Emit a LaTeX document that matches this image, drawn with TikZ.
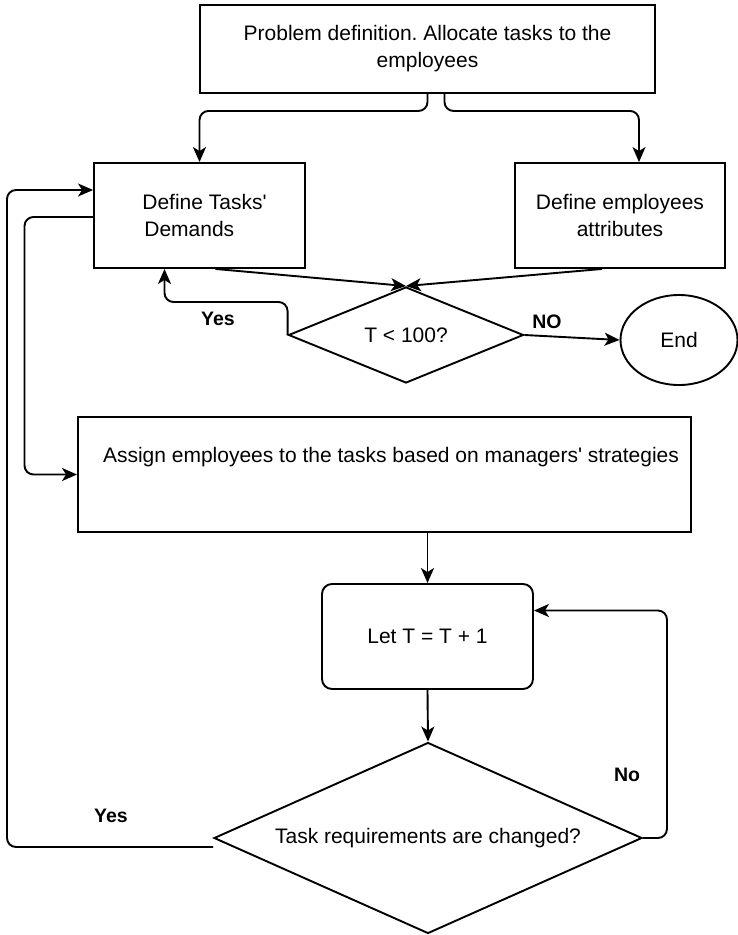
\documentclass[tikz,border=0pt]{standalone}
\usepackage{fontspec}
\setmainfont{Liberation Sans}
\usetikzlibrary{shapes.geometric,arrows.meta}
\begin{document}
\frenchspacing
\begin{tikzpicture}[x=1pt,y=-1pt,
  every node/.style={font=\fontsize{21}{27}\selectfont},
  box/.style={draw, line width=1.9pt, rectangle, inner sep=0pt, align=center},
  dia/.style={draw, line width=1.9pt, diamond, inner sep=0pt, align=center},
  lbl/.style={font=\fontsize{19.5}{23}\selectfont\bfseries},
  arr/.style={line width=1.9pt, -{Stealth[length=15pt,width=13pt,inset=4pt]}},
  rc/.style={rounded corners=9pt}
]
\useasboundingbox (0,0) rectangle (738,935);

\node[box, minimum width=455pt, minimum height=88pt] (prob) at (427.5,49) {Problem definition. Allocate tasks to the\\employees};
\node[box, align=left, minimum width=211pt, minimum height=105pt] (tasks) at (199.5,215.5) {\hspace*{10pt}Define Tasks\textquotesingle\\\hspace*{12pt}Demands};
\node[box, minimum width=210pt, minimum height=105pt] (emp) at (620,215.5) {Define employees\\attributes};
\node[dia, shape aspect=2.45, minimum width=235pt, minimum height=96pt] (d1) at (406,335) {T < 100?};
\node[draw, line width=1.9pt, ellipse, minimum width=117pt, minimum height=90pt, inner sep=0pt] (end) at (679,340) {End};
\node[box, minimum width=613pt, minimum height=115pt] (assign) at (384.5,474.5) {};
\node (assigntxt) at (391,457) {Assign employees to the tasks based on managers\textquotesingle\ strategies};
\node[box, rounded corners=10pt, minimum width=211pt, minimum height=105pt] (let) at (427.5,636.5) {Let T = T + 1};
\node[dia, shape aspect=2.24, minimum width=428pt, minimum height=191pt] (d2) at (428,838) {Task requirements are changed?};

\node[lbl] (yes1) at (218,319) {Yes};
\node[lbl] (no1) at (547,322) {NO};
\node[lbl] (no2) at (627,775) {No};
\node[lbl] (yes2) at (111,816) {Yes};

\coordinate (la) at (7,190);
\coordinate (lb) at (24.5,217);

\draw[arr, rc] (prob.south) -- ++(0,17) -| (tasks.north);
\draw[arr, rc] ([xshift=17pt]prob.south) -- ++(0,17) -| ([xshift=19pt]emp.north);
\draw[arr] ([xshift=16pt]tasks.south) -- (d1.north);
\draw[arr] ([xshift=-18pt]emp.south) -- (d1.north);
\draw[arr, rc] (d1.west) -- ++(0,-33) -| ([xshift=-35pt]tasks.south);
\draw[arr] (d1.east) -- (end.west);
\draw[arr] (assign.south -| let.north) -- (let.north);
\draw[arr] (let.south) -- (d2.north);
\draw[arr, rc] (d2.east) -- ++(24,0) |- ([yshift=26pt]let.east);
\draw[arr, rc] ([yshift=-9pt]d2.west) -| (la) -- (la -| tasks.west);
\draw[arr, rc] (tasks.west |- lb) -- (lb) |- (assign.west);
\end{tikzpicture}
\end{document}
